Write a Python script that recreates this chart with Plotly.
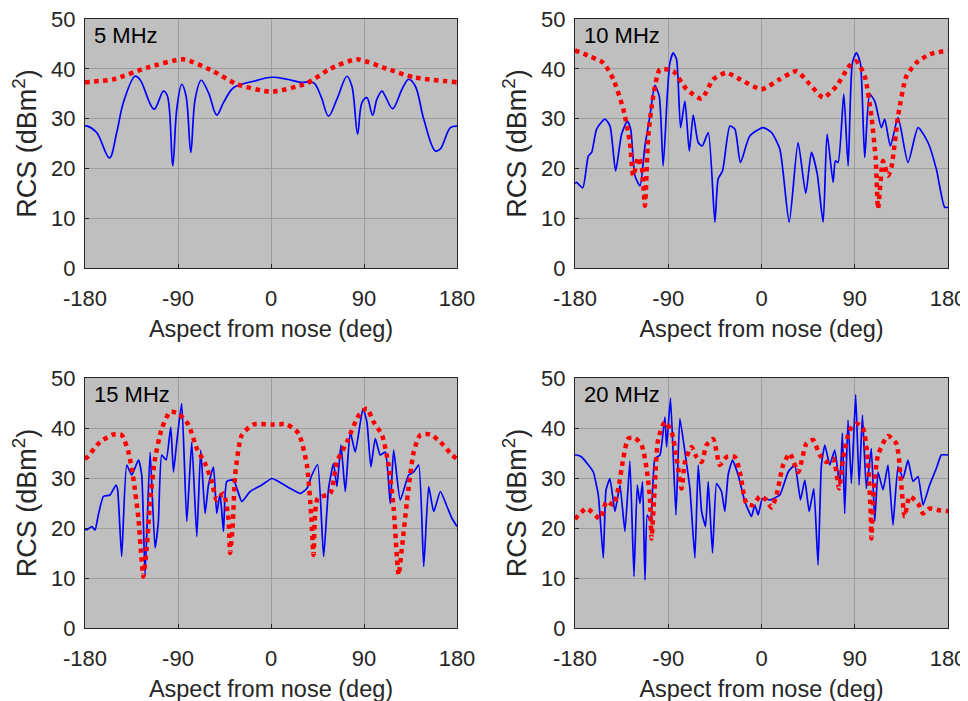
import plotly.graph_objects as go

# ---------------- data ----------------
tick_x = [-180, -90, 0, 90, 180]
tick_x_text = ["-180", "-90", "0", "90", "180"]
tick_y = [0, 10, 20, 30, 40, 50]
panel_labels = ["5 MHz", "10 MHz", "15 MHz", "20 MHz"]

b5_x = [-180, -177.7, -168.7, -156.4, -149.3, -142.9, -131.6, -126.7, -113.2, -104.1, -100.2, -95.1, -91.2, -86.4,
        -82.2, -77.6, -73.4, -67.6, -60.5, -52.5, -46.0, -36.3, -16.9, 0.8, 15.4, 28.3, 41.2, 48.3, 55.7, 63.8,
        73.5, 78.3, 83.8, 88.0, 92.8, 98.3, 102.5, 107.4, 110.6, 117.7, 126.8, 133.2, 139.7, 147.8, 159.0, 163.9,
        173.6, 180]
b5_y = [28.5, 28.5, 27.2, 22.1, 27.2, 33.2, 38.5, 37.8, 31.9, 35.5, 34.5, 20.5, 31.9, 36.9,
        34.5, 23.2, 33.9, 37.7, 35.2, 30.7, 33.2, 36.2, 37.5, 38.3, 37.9, 37.3, 37.2, 34.5, 30.5, 33.9,
        38.5, 36.5, 26.9, 33.2, 34.2, 30.7, 33.9, 35.5, 34.5, 32.0, 35.9, 37.9, 36.5, 29.9, 23.5, 23.9,
        28.2, 28.5]
r5_x = [-180, -152.5, -120.3, -84.7, -55.7, -33.1, 0.8, 34.7, 57.3, 83.2, 112.2, 138.1, 180]
r5_y = [37.3, 37.9, 40.2, 41.9, 39.5, 36.9, 35.4, 37.1, 40.0, 41.9, 40.0, 38.3, 37.3]

b10_x = [-180, -178.4, -172.6, -167.1, -163.9, -159.1, -151.1, -146.2, -140.8, -135.0, -129.5, -126.3, -122.1,
         -117.3, -112.5, -107.7, -102.9, -98.7, -94.9, -91.0, -88.4, -85.2, -82.0, -78.1, -73.9, -69.7, -65.9,
         -61.1, -57.2, -51.4, -45.0, -41.8, -37.6, -30.5, -25.7, -20.3, -11.3, 1.6, 9.6, 17.7, 26.7, 35.3, 42.7,
         48.2, 53.7, 59.5, 63.3, 69.1, 71.3, 73.9, 79.4, 83.6, 87.7, 91.6, 95.4, 99.6, 104.4, 109.3, 115.7, 118.9,
         124.4, 131.8, 141.4, 151.1, 160.7, 168.7, 176.8, 180]
b10_y = [17.0, 17.2, 16.1, 22.5, 23.2, 27.9, 29.9, 28.5, 19.5, 26.9, 29.5, 27.9, 18.5,
         16.5, 24.5, 30.5, 36.7, 34.5, 20.5, 34.5, 41.2, 43.2, 41.9, 28.2, 33.5, 23.5, 30.7,
         25.2, 24.5, 27.2, 9.2, 17.9, 19.5, 28.5, 27.9, 21.2, 26.5, 28.2, 27.2, 23.9, 9.2, 25.2, 15.0,
         23.2, 19.0, 9.2, 26.9, 17.2, 21.5, 21.2, 34.9, 20.5, 41.2, 43.2, 41.2, 22.2, 34.9, 33.5, 28.2, 29.9,
         24.5, 30.2, 21.2, 28.2, 25.2, 19.9, 12.2, 12.2]
r10_x = [-180, -165.5, -152.7, -143.0, -133.4, -127.0, -123.8, -118.9, -115.7, -112.5, -109.3, -104.5, -98.0,
         -85.2, -72.3, -57.9, -46.6, -33.8, -20.9, 0.0, 17.7, 33.8, 46.6, 59.5, 72.3, 84.5, 91.6, 99.6, 106.0,
         110.2, 112.5, 117.3, 122.1, 125.4, 131.8, 139.8, 149.4, 162.3, 180]
r10_y = [43.7, 42.5, 41.2, 37.9, 31.9, 25.2, 18.5, 22.2, 20.5, 12.5, 26.5, 34.5, 39.9,
         39.5, 35.9, 34.0, 37.9, 39.2, 37.9, 35.9, 37.9, 39.5, 36.9, 34.2, 36.5, 40.5, 41.5, 38.5, 30.5,
         21.9, 11.9, 21.5, 18.5, 20.2, 30.5, 38.5, 41.2, 42.9, 43.7]

b15_x = [-180, -178.4, -173.5, -170.3, -167.1, -162.2, -155.8, -150.0, -148.4, -144.5, -139.6, -134.8, -128.3,
         -125.1, -121.9, -117.0, -112.2, -109.0, -105.7, -101.5, -97.0, -94.4, -91.2, -86.4, -81.5, -76.7, -71.8,
         -68.0, -63.8, -60.5, -55.7, -52.5, -49.3, -46.0, -42.8, -36.3, -28.2, -20.2, -8.9, 0.8, 7.3, 18.6, 28.3,
         34.7, 39.6, 45.1, 50.9, 55.7, 60.5, 63.8, 67.7, 71.9, 76.7, 81.5, 89.0, 92.8, 96.7, 100.9, 105.7, 110.6,
         115.4, 118.7, 125.1, 133.2, 138.1, 142.9, 147.8, 152.6, 157.5, 163.9, 170.3, 175.2, 180]
b15_y = [19.8, 19.6, 20.3, 19.6, 22.6, 26.3, 26.6, 28.6, 27.6, 14.3, 32.6, 30.6, 33.6,
         30.6, 10.6, 35.2, 16.0, 21.3, 34.6, 33.6, 40.2, 31.2, 37.2, 44.9, 21.3, 37.2, 18.3,
         35.6, 22.9, 28.6, 32.2, 22.9, 26.9, 19.3, 29.3, 29.6, 25.3, 27.3, 28.6, 29.9, 29.3, 27.9, 26.9,
         27.9, 30.6, 32.7, 14.3, 27.9, 32.9, 28.3, 36.6, 27.3, 39.2, 35.2, 43.9, 41.2, 32.2, 37.9, 34.6, 35.2,
         24.9, 35.6, 25.6, 30.6, 31.2, 32.6, 12.3, 28.3, 23.3, 27.3, 24.3, 21.9, 20.3]
r15_x = [-180, -177.7, -165.5, -152.6, -144.5, -138.0, -133.2, -128.3, -125.1, -123.5, -120.3, -117.0, -112.2,
         -105.7, -97.7, -89.6, -79.8, -71.8, -63.8, -57.3, -52.5, -46.0, -41.2, -39.6, -37.0, -34.7, -28.2, -16.9,
         0.8, 15.4, 26.7, 34.7, 38.9, 41.2, 45.1, 57.3, 63.8, 73.5, 84.8, 92.8, 99.3, 107.4, 113.8, 118.7, 121.9,
         123.5, 126.7, 131.6, 138.1, 144.5, 154.2, 163.9, 175.2, 180]
r15_y = [33.8, 34.2, 37.2, 38.7, 38.6, 35.2, 29.9, 21.9, 13.3, 10.3, 16.0, 25.3, 33.9,
         39.9, 43.2, 42.9, 40.6, 35.9, 32.9, 29.3, 25.6, 26.9, 21.9, 15.0, 20.6, 30.6, 38.6, 40.7,
         40.7, 40.7, 38.9, 32.6, 22.6, 14.6, 25.9, 26.9, 33.2, 37.2, 42.5, 43.9, 41.2, 38.6, 32.6, 23.9, 14.0,
         10.6, 16.0, 25.3, 35.2, 38.6, 38.7, 37.2, 34.6, 33.8]

b20_x = [-180, -178.4, -173.6, -167.1, -162.3, -157.5, -152.7, -150.1, -146.3, -141.4, -136.6, -131.8, -127.0,
         -123.1, -119.9, -117.3, -114.8, -112.5, -110.3, -107.0, -102.9, -98.0, -93.2, -91.6, -87.8, -82.6, -78.8,
         -73.9, -69.1, -64.3, -61.1, -57.8, -54.0, -51.4, -47.3, -43.4, -38.6, -35.4, -32.2, -28.0, -22.5, -16.1,
         -9.7, -6.4, -3.2, 0.9, 8.0, 17.7, 25.7, 32.1, 37.6, 41.8, 46.0, 50.5, 54.6, 57.8, 61.1, 65.9, 70.7, 75.5,
         78.1, 80.3, 83.5, 86.8, 90.9, 94.2, 97.4, 101.2, 106.0, 109.3, 112.5, 117.3, 122.1, 126.9, 131.8, 136.6,
         141.4, 146.2, 151.1, 155.9, 162.3, 168.7, 173.5, 180]
b20_y = [34.6, 34.6, 34.2, 32.6, 31.2, 26.6, 14.0, 27.6, 29.9, 23.3, 28.6, 19.3, 33.4,
         10.3, 28.6, 24.9, 29.3, 9.6, 22.6, 21.3, 33.9, 34.6, 42.2, 36.2, 46.0, 22.6, 41.9,
         35.2, 27.9, 14.0, 32.6, 23.3, 20.3, 29.3, 15.0, 28.9, 27.3, 23.3, 30.6, 33.6, 30.6, 25.3,
         22.3, 24.6, 22.6, 25.9, 25.6, 26.6, 31.2, 32.6, 25.6, 29.6, 23.3, 27.9, 12.6, 32.6, 36.6, 32.6, 35.6, 28.6,
         39.0, 22.9, 41.6, 28.9, 46.7, 28.6, 42.6, 27.9, 35.9, 21.3, 31.2, 27.6, 32.6, 20.6, 32.3, 29.9,
         33.6, 29.3, 30.3, 24.6, 28.6, 31.9, 34.6, 34.6]
r20_x = [-180, -168.8, -155.9, -149.5, -143.0, -138.2, -133.4, -128.6, -122.1, -115.7, -110.9, -107.7, -106.1,
         -103.8, -99.6, -93.2, -86.8, -81.9, -77.1, -73.9, -67.5, -62.7, -57.9, -53.0, -46.6, -40.2, -33.8, -25.7,
         -20.9, -14.5, -8.0, -1.6, 4.8, 9.6, 14.5, 20.9, 27.3, 35.4, 43.4, 49.8, 56.2, 62.7, 69.1, 74.9, 78.7,
         85.2, 91.6, 98.0, 102.8, 105.4, 106.0, 108.3, 112.5, 122.1, 130.1, 134.9, 138.2, 143.0, 151.1, 155.9,
         162.3, 170.3, 178.4, 180]
r20_y = [21.8, 23.9, 21.9, 25.3, 24.6, 27.9, 33.9, 37.9, 38.0, 36.6, 31.9, 25.9, 17.9,
         25.3, 37.9, 41.2, 39.2, 33.9, 27.9, 33.2, 36.2, 34.2, 33.2, 36.6, 37.8, 32.6, 34.2, 34.2,
         31.2, 24.9, 24.6, 26.3, 25.6, 24.1, 26.6, 32.6, 34.9, 31.2, 36.9, 37.6, 34.6, 33.2, 33.9, 27.9, 33.9,
         39.6, 40.9, 39.9, 33.2, 22.6, 17.9, 27.3, 34.6, 38.4, 36.9, 28.6, 22.3, 26.3, 24.9, 22.9,
         23.9, 23.6, 23.4, 23.4]

series = [(b5_x, b5_y, r5_x, r5_y), (b10_x, b10_y, r10_x, r10_y),
          (b15_x, b15_y, r15_x, r15_y), (b20_x, b20_y, r20_x, r20_y)]
blue_smooth = [1.0, 0.6, 0.5, 0.4]

# ---------------- layout ----------------
# the page body has an 8px margin, so the figure is drawn 8px in from the top-left corner
W, H = 968, 701
OFF = 8
def xd(a, b):
    return [(a - OFF) / W, (b - OFF) / W]
def yd(top, bot):
    return [1 - (bot - OFF) / H, 1 - (top - OFF) / H]
xdoms = [xd(85, 457), xd(575, 948)]
ydoms = [yd(378, 628), yd(19, 268)]  # bottom row, top row

FONT = "Liberation Sans, Arial, Helvetica, sans-serif"
TXT = "#262626"

fig = go.Figure()
layout = dict(
    width=W, height=H, margin=dict(l=0, r=0, t=0, b=0, autoexpand=False),
    paper_bgcolor="white", plot_bgcolor="#bfbfbf", showlegend=False,
    font=dict(family=FONT, size=22, color=TXT),
)
annotations = []
for i, (bx, by, rx, ry) in enumerate(series):
    row = i // 2
    col = i % 2
    n = i + 1
    xa = "x" if n == 1 else f"x{n}"
    ya = "y" if n == 1 else f"y{n}"
    fig.add_trace(go.Scatter(x=bx, y=by, mode="lines", xaxis=xa, yaxis=ya,
                             line=dict(color="#0000ff", width=1.7, shape="spline", smoothing=blue_smooth[i]),
                             hoverinfo="skip"))
    fig.add_trace(go.Scatter(x=rx, y=ry, mode="lines", xaxis=xa, yaxis=ya,
                             line=dict(color="#ff0000", width=4.5, dash="dot", shape="spline", smoothing=0.6),
                             hoverinfo="skip"))
    xkey = "xaxis" if n == 1 else f"xaxis{n}"
    ykey = "yaxis" if n == 1 else f"yaxis{n}"
    layout[xkey] = dict(
        domain=xdoms[col], anchor=ya, range=[-180, 180], tickvals=tick_x, ticktext=tick_x_text,
        automargin=False, fixedrange=True, ticklabeloverflow="allow",
        showgrid=True, gridcolor="#9e9e9e", gridwidth=1, zeroline=False,
        showline=True, linecolor=TXT, linewidth=1.3, mirror=True,
        ticks="inside", ticklen=4, tickcolor=TXT, ticklabelstandoff=10,
        tickfont=dict(size=22, color=TXT, family=FONT),
        title=dict(text="Aspect from nose (deg)", font=dict(size=23.5, color=TXT, family=FONT), standoff=11),
    )
    layout[ykey] = dict(
        domain=ydoms[1 - row], anchor=xa, range=[0, 50], tickvals=tick_y,
        automargin=False, fixedrange=True, ticklabeloverflow="allow",
        showgrid=True, gridcolor="#9e9e9e", gridwidth=1, zeroline=False,
        showline=True, linecolor=TXT, linewidth=1.3, mirror=True,
        ticks="inside", ticklen=4, tickcolor=TXT, ticklabelstandoff=4,
        tickfont=dict(size=22, color=TXT, family=FONT),
        title=dict(text="RCS (dBm<sup>2</sup>)", font=dict(size=27, color=TXT, family=FONT), standoff=6),
    )
    annotations.append(dict(
        text=panel_labels[i], xref=f"{xa} domain", yref=f"{ya} domain",
        x=0.02, y=0.99, xanchor="left", yanchor="top", showarrow=False,
        font=dict(size=22, color="black", family=FONT),
    ))
layout["annotations"] = annotations
fig.update_layout(**layout)
fig.write_html("out.html")
